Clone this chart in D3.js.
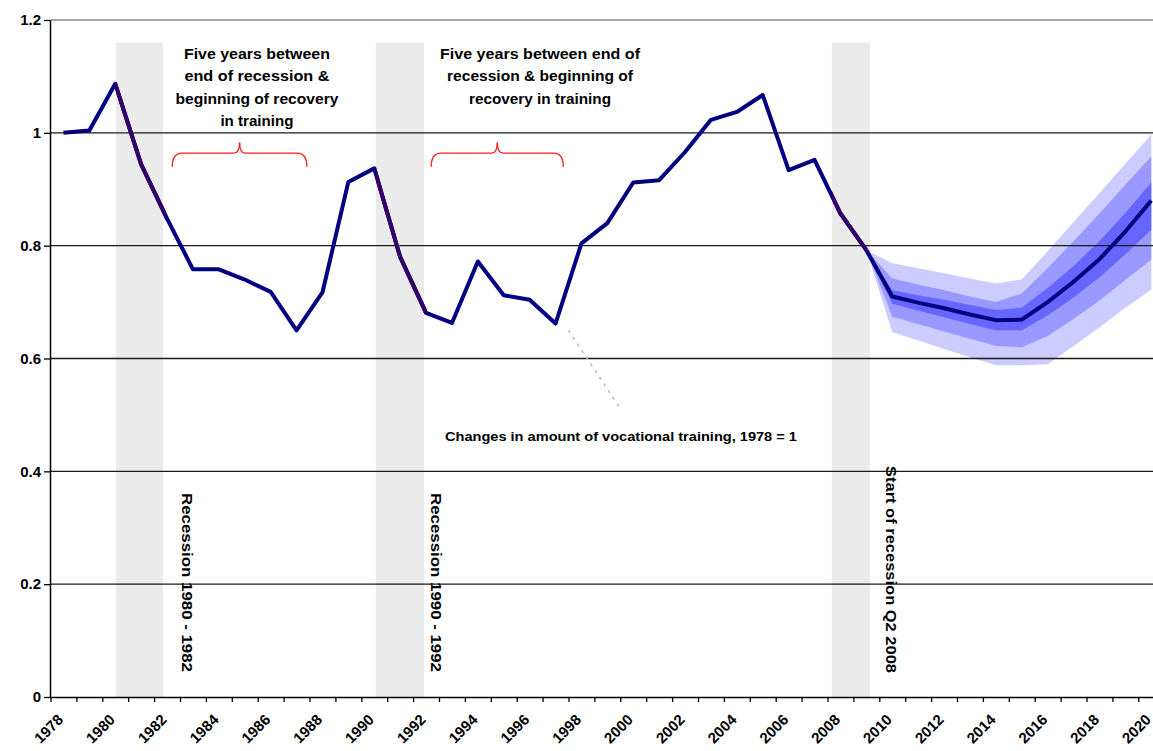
<!DOCTYPE html>
<html><head><meta charset="utf-8">
<script src="https://cdn.jsdelivr.net/npm/d3@7"></script>
<style>
body{margin:0;background:#fff}
svg{display:block}
text{font-family:"Liberation Sans",Arial,sans-serif;font-weight:bold;fill:#000}
</style>
</head><body>
<svg id="c" width="1153" height="751"></svg>
<script>
// ---------- data ----------
const categories = [1978,1979,1980,1981,1982,1983,1984,1985,1986,1987,1988,1989,1990,1991,1992,1993,1994,1995,1996,1997,1998,1999,2000,2001,2002,2003,2004,2005,2006,2007,2008,2009,2010,2011,2012,2013,2014,2015,2016,2017,2018,2019,2020];
const xTickLabels = ["1978","1980","1982","1984","1986","1988","1990","1992","1994","1996","1998","2000","2002","2004","2006","2008","2010","2012","2014","2016","2018","2020"];
const yTicks = [0,0.2,0.4,0.6,0.8,1,1.2];
const yTickLabels = ["0","0.2","0.4","0.6","0.8","1","1.2"];

const histYears  = [1978,1979,1980,1981,1982,1983,1984,1985,1986,1987,1988,1989,1990,1991,1992,1993,1994,1995,1996,1997,1998,1999,2000,2001,2002,2003,2004,2005,2006,2007,2008,2009];
const histValues = [1.000,1.004,1.087,0.944,0.848,0.758,0.758,0.740,0.718,0.650,0.717,0.913,0.937,0.780,0.681,0.663,0.772,0.712,0.704,0.662,0.804,0.840,0.912,0.916,0.966,1.023,1.037,1.067,0.934,0.952,0.857,0.792];

const fanYears   = [2009,2010,2011,2012,2013,2014,2015,2016,2017,2018,2019,2020];
const fanCentral = [0.792,0.710,0.699,0.689,0.678,0.668,0.669,0.700,0.736,0.776,0.825,0.880];
const innerHi    = [0.792,0.721,0.712,0.704,0.695,0.686,0.690,0.725,0.764,0.808,0.858,0.912];
const innerLo    = [0.792,0.697,0.685,0.673,0.661,0.650,0.650,0.676,0.708,0.744,0.785,0.828];
const midHi      = [0.792,0.742,0.731,0.721,0.710,0.700,0.715,0.760,0.808,0.857,0.908,0.958];
const midLo      = [0.792,0.674,0.661,0.648,0.635,0.622,0.620,0.640,0.670,0.703,0.739,0.775];
const outerHi    = [0.792,0.769,0.760,0.751,0.742,0.733,0.740,0.790,0.842,0.893,0.945,0.997];
const outerLo    = [0.792,0.647,0.632,0.617,0.602,0.588,0.588,0.590,0.622,0.655,0.690,0.722];

const recessionStart = [1980.03, 1990.06, 2007.67];
const recessionEnd   = [1981.84, 1991.92, 2009.14];
const shadeTop = 1.16;

const recessionLabels = ["Recession 1980 - 1982","Recession 1990 - 1992","Start of recession Q2 2008"];
const recessionLabelYear = [1982.75, 1992.38, 2009.95];
const braceStart = [1982.2, 1992.2];
const braceEnd   = [1987.4, 1997.3];
const noteLines1 = ["Five years between","end of recession &","beginning of recovery","in training"];
const noteLines2 = ["Five years between end of","recession & beginning of","recovery in training"];
const seriesLabel = "Changes in amount of vocational training, 1978 = 1";

// ---------- layout ----------
const W = 1153, H = 751;
const x = d3.scaleLinear().domain([categories[0]-0.5, categories[categories.length-1]+0.5]).range([50.5, 1164.2]);
const y = d3.scaleLinear().domain([0,1.2]).range([697,20]);
const svg = d3.select('#c');

// recession shading
const recessions = recessionStart.map((s,i)=>[s, recessionEnd[i]]);
svg.append('g').selectAll('rect').data(recessions).join('rect')
  .attr('x', d=>x(d[0])).attr('width', d=>x(d[1])-x(d[0]))
  .attr('y', y(shadeTop)).attr('height', y(0)-y(shadeTop))
  .attr('fill', '#ebebeb');

// fan bands
function band(lo, hi){
  return d3.area().x((d,i)=>x(fanYears[i])).y0((d,i)=>y(lo[i])).y1((d,i)=>y(hi[i]))(fanYears);
}
svg.append('path').attr('d', band(outerLo, outerHi)).attr('fill', '#ccccff');
svg.append('path').attr('d', band(midLo, midHi)).attr('fill', '#9999ff');
svg.append('path').attr('d', band(innerLo, innerHi)).attr('fill', '#6666ff');

// gridlines
svg.append('g').selectAll('line').data(yTicks.filter(v=>v>0)).join('line')
  .attr('x1', 50).attr('x2', W).attr('y1', d=>y(d)).attr('y2', d=>y(d))
  .attr('stroke', d=> d===1.2 ? '#a8a8a8' : '#1a1a1a').attr('stroke-width', d=> d===1.2 ? 2 : 1.4);

// axes
const yAxis = svg.append('g').attr('transform','translate(50,0)')
  .call(d3.axisLeft(y).tickValues(yTicks).tickSize(6).tickSizeOuter(0).tickPadding(3)
    .tickFormat((d,i)=>yTickLabels[i]));
yAxis.select('.domain').attr('stroke','#000').attr('stroke-width',1.5);
yAxis.selectAll('.tick line').attr('stroke','#000').attr('stroke-width',1.3);
yAxis.selectAll('.tick text').style('font-size','15px').style('font-family','"Liberation Sans",Arial,sans-serif').style('font-weight','bold');

const tickBounds = categories.map(c=>c-0.5).concat([categories[categories.length-1]+0.5]);
const xAxis = svg.append('g').attr('transform',`translate(0,${y(0)})`)
  .call(d3.axisBottom(x).tickValues(tickBounds).tickSize(5).tickSizeOuter(0).tickFormat(''));
xAxis.select('.domain').attr('stroke','#000').attr('stroke-width',1.5);
xAxis.selectAll('.tick line').attr('stroke','#000').attr('stroke-width',1.3);

svg.append('g').selectAll('text').data(xTickLabels).join('text')
  .attr('transform', d=>`translate(${x(+d)-3},717) rotate(-45)`)
  .attr('text-anchor','end').attr('dy','0.35em')
  .style('font-size','15px').text(d=>d);

// historical line
const histLine = d3.line().x((d,i)=>x(histYears[i])).y(d=>y(d));
svg.append('path').attr('d', histLine(histValues))
  .attr('fill','none').attr('stroke','#000080').attr('stroke-width',4).attr('stroke-linejoin','round');

const clip = svg.append('clipPath').attr('id','recClip');
clip.selectAll('rect').data(recessions).join('rect')
  .attr('x', d=>x(d[0])).attr('width', d=>x(d[1])-x(d[0])+3).attr('y',0).attr('height',H);
svg.append('path').attr('d', histLine(histValues)).attr('clip-path','url(#recClip)')
  .attr('fill','none').attr('stroke','#330066').attr('stroke-width',4).attr('stroke-linejoin','round');

// projection central line
const fanLine = d3.line().x((d,i)=>x(fanYears[i])).y(d=>y(d));
svg.append('path').attr('d', fanLine(fanCentral))
  .attr('fill','none').attr('stroke','#000080').attr('stroke-width',4).attr('stroke-linejoin','round');

// braces
function bracePath(x1, x2, yb){
  const xm = (x1+x2)/2, ye = yb+13.5, yt = yb-11;
  return `M${x1},${ye} Q${x1},${yb} ${x1+10},${yb} L${xm-6},${yb} Q${xm},${yb} ${xm},${yt} Q${xm},${yb} ${xm+6},${yb} L${x2-10},${yb} Q${x2},${yb} ${x2},${ye}`;
}
svg.append('g').selectAll('path').data(braceStart).join('path')
  .attr('d', (d,i)=>bracePath(x(d), x(braceEnd[i]), y(0.964)))
  .attr('fill','none').attr('stroke','#ff2020').attr('stroke-width',1.4);

// text blocks
const widths1 = [146,145,163,73];
const widths2 = [200,186,142];
const g1 = svg.append('g');
noteLines1.forEach((t,i)=>{
  g1.append('text').attr('x', x(1985.47)).attr('y', y(1.131)+i*22.3)
    .attr('text-anchor','middle').attr('textLength', widths1[i]).attr('lengthAdjust','spacingAndGlyphs')
    .style('font-size','15px').text(t);
});
noteLines2.forEach((t,i)=>{
  g1.append('text').attr('x', x(1996.4)).attr('y', y(1.131)+i*22.3)
    .attr('text-anchor','middle').attr('textLength', widths2[i]).attr('lengthAdjust','spacingAndGlyphs')
    .style('font-size','15px').text(t);
});

// vertical recession labels
const vLens = [179,179,207];
const vTop = [493,493,466];
svg.append('g').selectAll('text').data(recessionLabels).join('text')
  .attr('transform',(d,i)=>`translate(${x(recessionLabelYear[i])},${vTop[i]}) rotate(90)`)
  .attr('dy','0.35em').attr('textLength',(d,i)=>vLens[i]).attr('lengthAdjust','spacingAndGlyphs')
  .style('font-size','14px').text(d=>d);

// leader and series label
svg.append('line')
  .attr('x1', x(1997.5)).attr('y1', y(0.65)).attr('x2', x(1999.49)).attr('y2', y(0.512))
  .attr('stroke','#b8b8b8').attr('stroke-width',1.5).attr('stroke-dasharray','3,5');
svg.append('text').attr('x', x(1992.73)).attr('y', y(0.4537))
  .attr('textLength',352).attr('lengthAdjust','spacingAndGlyphs')
  .style('font-size','13px').text(seriesLabel);
</script>
</body></html>
